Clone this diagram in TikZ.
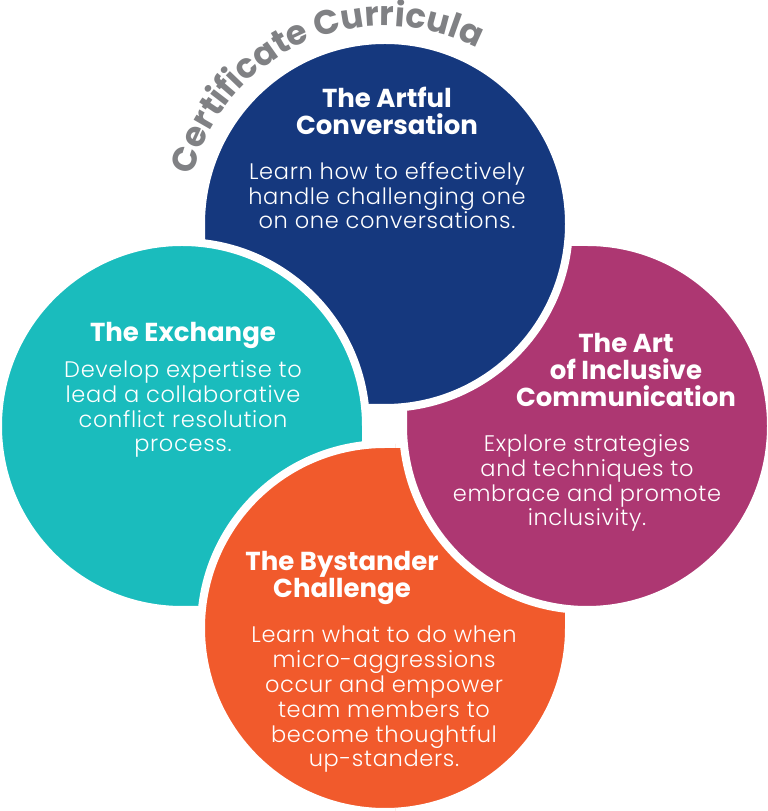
\documentclass[tikz,border=0pt]{standalone}
\usepackage{fontspec}
\setmainfont{Poppins}
\newfontfamily\bodyfont[LetterSpace=3]{Poppins Light}
\usetikzlibrary{decorations.text}

\definecolor{artblue}{HTML}{15387E}
\definecolor{exchteal}{HTML}{1ABCBD}
\definecolor{inclmag}{HTML}{AD3772}
\definecolor{bystorange}{HTML}{F15A2C}
\definecolor{certgray}{HTML}{808184}

\tikzset{
  petalbox/.style={draw=white, line width=8pt, line join=miter},
  headtext/.style={text=white, align=center, inner sep=0pt, anchor=base,
    font=\fontsize{26}{27}\selectfont\bfseries},
  bodytext/.style={text=white, align=center, inner sep=0pt, anchor=base,
    font=\bodyfont\fontsize{22.5}{24.8}\selectfont},
}

% circle with one square corner: centre, corner angle, colour
\newcommand{\petal}[3]{%
  \path[petalbox, fill=#3] (#1) ++(#2+45:184)
    arc[start angle=#2+45, delta angle=270, radius=184]
    -- ++(#2+45:184) -- cycle;}

\begin{document}
\begin{tikzpicture}[x=1pt, y=1pt]
  \useasboundingbox (0,0) rectangle (768,811);
  \fill[white] (0,0) rectangle (768,811);

  \coordinate (artfulC) at (385,587);
  \coordinate (exchangeC) at (182,385);
  \coordinate (inclusiveC) at (587,385);
  \coordinate (bystanderC) at (385,183);

  \petal{bystanderC}{45}{bystorange}
  \petal{inclusiveC}{135}{inclmag}
  \petal{artfulC}{225}{artblue}
  \petal{exchangeC}{315}{exchteal}
  % orange lies over the teal corner
  \begin{scope}
    \clip (0,0) rectangle (395,400);
    \petal{bystanderC}{45}{bystorange}
  \end{scope}

  \path[decorate, decoration={text along path, text color=certgray,
      text={|\fontsize{34}{34}\selectfont\bfseries|Certificate Curricula},
      text align=center}]
    (artfulC) ++(166:198) arc[start angle=166, end angle=62, radius=198];

  % base = last line
  \node[headtext] (artfulTitle) at (387,676) {The Artful\\Conversation};
  \node[bodytext] (artfulText) at (387,582)
    {Learn how to effectively\\handle challenging one\\on one conversations.};

  \node[headtext] (exchangeTitle) at (183,469) {The Exchange};
  \node[bodytext] (exchangeText) at (183,359)
    {Develop expertise to\\lead a collaborative\\conflict resolution\\process.};

  \node[headtext] (inclusiveTitle) at (626,404)
    {The Art\\of Inclusive\\Communication};
  \node[bodytext] (inclusiveText) at (587,285)
    {Explore strategies\\and techniques to\\embrace and promote\\inclusivity.};

  \node[headtext] (bystanderTitle) at (342,213) {The Bystander\\Challenge};
  \node[bodytext] (bystanderText) at (384,44)
    {Learn what to do when\\micro-aggressions\\occur and empower\\team members to\\become thoughtful\\up-standers.};
\end{tikzpicture}
\end{document}
